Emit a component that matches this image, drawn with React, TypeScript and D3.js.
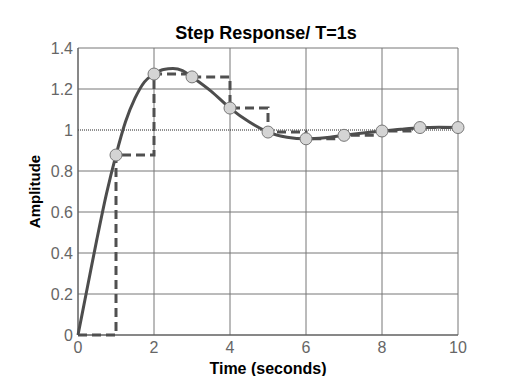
import React from "react";
import * as d3 from "d3";

const title = "Step Response/ T=1s";
const xLabel = "Time (seconds)";
const yLabel = "Amplitude";
const xTicks = [0, 2, 4, 6, 8, 10];
const yTicks = [0, 0.2, 0.4, 0.6, 0.8, 1, 1.2, 1.4];

// continuous response
const contT = [0, 0.25, 0.5, 0.75, 1, 1.25, 1.5, 1.75, 2, 2.25, 2.5, 2.75, 3, 3.5, 4, 4.5, 5, 5.5, 6, 6.5, 7, 7.5, 8, 8.5, 9, 9.5, 10];
const contY = [0, 0.235, 0.47, 0.69, 0.878, 1.04, 1.155, 1.235, 1.272, 1.295, 1.3, 1.29, 1.259, 1.19, 1.107, 1.04, 0.99, 0.965, 0.957, 0.962, 0.974, 0.985, 0.995, 1.004, 1.011, 1.013, 1.012];

// sampled values
const sampleT = [0, 1, 2, 3, 4, 5, 6, 7, 8, 9, 10];
const sampleY = [0, 0.878, 1.273, 1.259, 1.107, 0.99, 0.957, 0.974, 0.995, 1.012, 1.012];

const W = 506, H = 376;
const L = 78, R = 458, T = 48, B = 335;

export default function App() {
  const x = d3.scaleLinear().domain([0, 10]).range([L, R]);
  const y = d3.scaleLinear().domain([0, 1.4]).range([B, T]);
  const cont = contT.map((t, i) => [t, contY[i]] as [number, number]);
  const samp = sampleT.map((t, i) => [t, sampleY[i]] as [number, number]);
  const lineC = d3.line<[number, number]>().x(d => x(d[0])).y(d => y(d[1])).curve(d3.curveMonotoneX);
  const lineS = d3.line<[number, number]>().x(d => x(d[0])).y(d => y(d[1])).curve(d3.curveStepAfter);
  const grid = "#777";
  const tickColor = "#666";
  const font = "Liberation Sans, Arial, sans-serif";
  return (
    <svg width={W} height={H} style={{ position: "absolute", left: 0, top: 0, background: "#fff" }} fontFamily={font}>
      <rect x={0} y={0} width={W} height={H} fill="#fff" />
      {xTicks.map(t => (
        <line key={"gx" + t} x1={x(t)} x2={x(t)} y1={T} y2={B} stroke={grid} strokeWidth={1} />
      ))}
      {yTicks.filter(v => v !== 1).map(v => (
        <line key={"gy" + v} x1={L} x2={R} y1={y(v)} y2={y(v)} stroke={grid} strokeWidth={1} />
      ))}
      <line x1={L} x2={R} y1={y(1)} y2={y(1)} stroke="#222" strokeWidth={1} strokeDasharray="1,1" />
      <line x1={L} x2={L} y1={T} y2={B} stroke="#555" strokeWidth={1} />
      <line x1={L} x2={R} y1={B} y2={B} stroke="#555" strokeWidth={1} />
      <path d={lineS(samp) || ""} fill="none" stroke="#505050" strokeWidth={3} strokeDasharray="9,5" />
      <path d={lineC(cont) || ""} fill="none" stroke="#4d4d4d" strokeWidth={3} />
      {samp.slice(1).map(d => (
        <circle key={"c" + d[0]} cx={x(d[0])} cy={y(d[1])} r={6} fill="#d4d4d4" stroke="#777" strokeWidth={1} />
      ))}
      {xTicks.map(t => (
        <text key={"tx" + t} x={x(t)} y={B + 18} textAnchor="middle" fontSize={16} fill={tickColor}>{t}</text>
      ))}
      {yTicks.map(v => (
        <text key={"ty" + v} x={L - 5} y={y(v) + 5.5} textAnchor="end" fontSize={16} fill={tickColor}>{d3.format("~g")(v)}</text>
      ))}
      <text x={266} y={39} textAnchor="middle" fontSize={18} fontWeight="bold" fill="#000">{title}</text>
      <text x={(L + R) / 2} y={374} textAnchor="middle" fontSize={16} fontWeight="bold" fill="#000">{xLabel}</text>
      <text transform={`translate(40,${(T + B) / 2}) rotate(-90)`} textAnchor="middle" fontSize={15} fontWeight="bold" fill="#000">{yLabel}</text>
    </svg>
  );
}
